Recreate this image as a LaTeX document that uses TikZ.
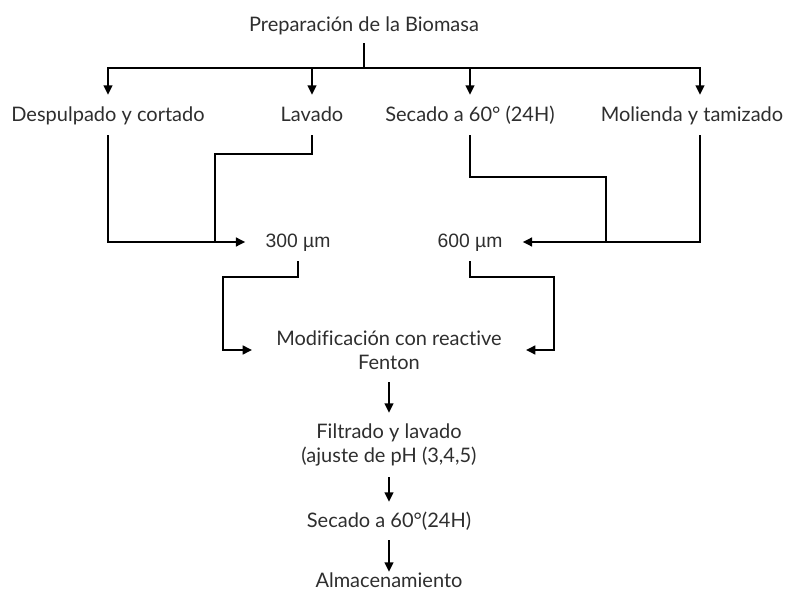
\documentclass[tikz,border=0pt]{standalone}
\usepackage{fontspec}
\setmainfont{Lato}[Ligatures={NoCommon}]
\newfontfamily\arialf{Liberation Sans}
\usetikzlibrary{arrows.meta}
\begin{document}
\begin{tikzpicture}[x=0.75pt,y=-0.75pt,
  conn/.style={line width=1.6pt},
  arr/.style={conn,-{Triangle[length=7pt,width=6.5pt]}},
  lbl/.style={inner sep=0pt,font=\fontsize{15}{18}\selectfont,text=black!82},
  toprow/.style={lbl,anchor=base,text height=20.25pt,text depth=9.75pt},
  sizelbl/.style={inner ysep=0pt,inner xsep=15pt,anchor=base,font=\arialf\fontsize{14.5}{16}\selectfont,text=black!82,text height=18.75pt,text depth=9.75pt},
]
\useasboundingbox (0,0) rectangle (790,599);

\node[lbl,anchor=base,text depth=8.25pt] (prep) at (364,32) {Preparación de la Biomasa};
\node[toprow] (desp) at (108,122) {Despulpado y cortado};
\node[toprow] (lav) at (312,122) {Lavado};
\node[toprow] (sec1) at (470,122) {Secado a 60° (24H)};
\node[toprow] (mol) at (692,122) {Molienda y tamizado};
\node[sizelbl] (m300) at (298,248) {300 µm};
\node[sizelbl] (m600) at (470,248) {600 µm};
\node[lbl,align=center,inner xsep=18pt,minimum height=48pt] (mod) at (389,350) {Modificación con reactive\\Fenton};
\node[lbl,align=center,minimum height=48pt] (fil) at (389,445) {Filtrado y lavado\\(ajuste de pH (3,4,5)};
\node[lbl,anchor=base,text height=18.75pt,text depth=9.75pt] (sec2) at (389,527) {Secado a 60°(24H)};
\node[lbl,anchor=base,text height=11.25pt] (alm) at (389,587) {Almacenamiento};

\coordinate (hub) at (364,68);
\coordinate (j1) at (215,154);
\coordinate (j2) at (606,177);
\coordinate (j3) at (223,277);
\coordinate (j4) at (554,277);

\draw[conn] (prep.south) -- (hub);
\draw[arr] (hub) -| (desp.north);
\draw[arr] (hub) -| (lav.north);
\draw[arr] (hub) -| (sec1.north);
\draw[arr] (hub) -| ([xshift=6pt]mol.north);
\draw[arr] (desp.south) |- (m300.west);
\draw[conn] (lav.south) |- (j1) -- (j1 |- m300.west);
\draw[arr] ([xshift=6pt]mol.south) |- (m600.east);
\draw[conn] (sec1.south) |- (j2) -- (j2 |- m600.east);
\draw[arr] (m300.south) |- (j3) |- (mod.west);
\draw[arr] (m600.south) |- (j4) |- (mod.east);
\draw[arr] (mod) -- (fil);
\draw[arr] (fil) -- (sec2);
\draw[arr] (sec2) -- (alm);
\end{tikzpicture}
\end{document}
